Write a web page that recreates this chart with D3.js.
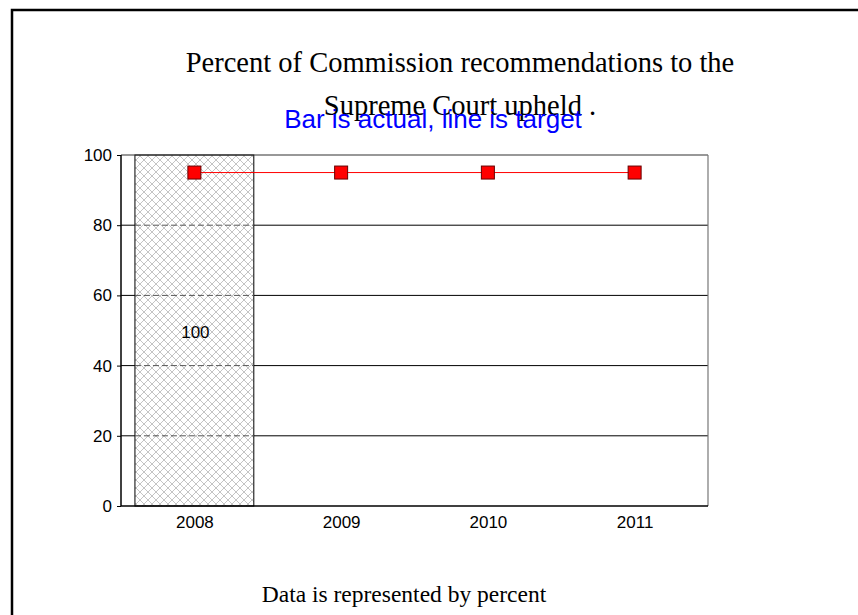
<!DOCTYPE html>
<html>
<head>
<meta charset="utf-8">
<script src="https://cdn.jsdelivr.net/npm/d3@7"></script>
<style>
  body { margin: 0; background: #fff; }
  svg { display: block; }
</style>
</head>
<body>
<div id="chart"></div>
<script>
// chart values
var years = ["2008", "2009", "2010", "2011"];
var actual = [100, null, null, null];
var target = [95, 95, 95, 95];
var yTicks = [0, 20, 40, 60, 80, 100];

var W = 858, H = 615;
var pL = 121, pR = 708, pT = 155, pB = 506;

var svg = d3.select('#chart').append('svg')
  .attr('width', W).attr('height', H);

// crosshatch for the bar
var defs = svg.append('defs');
var pat = defs.append('pattern')
  .attr('id', 'hatch')
  .attr('patternUnits', 'userSpaceOnUse')
  .attr('width', 8).attr('height', 8);
pat.append('rect').attr('width', 8).attr('height', 8).attr('fill', '#fff');
pat.append('path')
  .attr('d', 'M0,0 L8,8 M8,0 L0,8')
  .attr('stroke', '#c4c4c4').attr('stroke-width', 1);

// slide frame (top and left edges)
svg.append('path')
  .attr('d', 'M12,615 L12,10 L858,10')
  .attr('fill', 'none').attr('stroke', '#000').attr('stroke-width', 2.5);

var x = d3.scaleBand().domain(years).range([pL, pR]).paddingInner(0.19).paddingOuter(0.095);
var xc = d3.scalePoint().domain(years).range([pL, pR]).padding(0.5);
var y = d3.scaleLinear().domain([0, 100]).range([pB, pT]);

// grid lines
svg.append('g').selectAll('line')
  .data(yTicks.filter(function(d){ return d > 0 && d < 100; }))
  .enter().append('line')
  .attr('x1', pL).attr('x2', pR)
  .attr('y1', function(d){ return y(d); }).attr('y2', function(d){ return y(d); })
  .attr('stroke', '#000').attr('stroke-width', 1);

// bars
var bars = svg.append('g').selectAll('g')
  .data(years.map(function(d, i){ return {year: d, v: actual[i]}; }).filter(function(d){ return d.v != null; }))
  .enter().append('g');

bars.append('rect')
  .attr('x', function(d){ return x(d.year); })
  .attr('width', x.bandwidth())
  .attr('y', function(d){ return y(d.v); })
  .attr('height', function(d){ return y(0) - y(d.v); })
  .attr('fill', 'url(#hatch)')
  .attr('stroke', '#000').attr('stroke-width', 1);

// grid shows through the hatch as dashes
bars.each(function(d){
  var g = d3.select(this);
  yTicks.filter(function(t){ return t > 0 && t < d.v; }).forEach(function(t){
    g.append('line')
      .attr('x1', x(d.year)).attr('x2', x(d.year) + x.bandwidth())
      .attr('y1', y(t)).attr('y2', y(t))
      .attr('stroke', '#555').attr('stroke-dasharray', '6,3');
  });
});

bars.append('text')
  .attr('x', function(d){ return x(d.year) + x.bandwidth() / 2 + 1; })
  .attr('y', function(d){ return y(d.v / 2) + 7; })
  .attr('text-anchor', 'middle')
  .style('font-family', 'Liberation Sans, Arial, sans-serif')
  .style('font-size', '17px')
  .text(function(d){ return d.v; });

// plot frame
svg.append('line').attr('x1', pL).attr('x2', pR).attr('y1', pT).attr('y2', pT)
  .attr('stroke', '#333').attr('stroke-width', 1.2);
svg.append('line').attr('x1', pR).attr('x2', pR).attr('y1', pT).attr('y2', pB)
  .attr('stroke', '#777').attr('stroke-width', 1.2);

// axes
var yAxis = svg.append('g').attr('transform', 'translate(' + pL + ',0)')
  .call(d3.axisLeft(y).tickValues(yTicks).tickSize(4).tickPadding(5));
var xAxis = svg.append('g').attr('transform', 'translate(0,' + pB + ')')
  .call(d3.axisBottom(xc).tickSize(0).tickPadding(10));
[yAxis, xAxis].forEach(function(a){
  a.selectAll('path').attr('stroke', '#000').attr('stroke-width', 1.5);
  a.selectAll('line').attr('stroke', '#000');
  a.selectAll('text')
    .style('font-family', 'Liberation Sans, Arial, sans-serif')
    .style('font-size', '17px').attr('fill', '#000');
});
xAxis.select('.domain').attr('d', 'M' + pL + ',0H' + pR);
yAxis.select('.domain').attr('d', 'M0,' + pT + 'V' + pB);

// target line
var line = d3.line()
  .x(function(d, i){ return xc(years[i]); })
  .y(function(d){ return y(d); });
svg.append('path').datum(target)
  .attr('d', line).attr('fill', 'none')
  .attr('stroke', '#ff0000').attr('stroke-width', 1);

svg.append('g').selectAll('rect')
  .data(target).enter().append('rect')
  .attr('x', function(d, i){ return xc(years[i]) - 6.5; })
  .attr('y', function(d){ return y(d) - 6.5; })
  .attr('width', 13).attr('height', 13)
  .attr('fill', '#ff0000').attr('stroke', '#600').attr('stroke-width', 1);

// titles
var serif = 'Liberation Serif, Times New Roman, serif';
svg.append('text').attr('x', 460).attr('y', 72).attr('text-anchor', 'middle')
  .style('font-family', serif).style('font-size', '28.5px')
  .text('Percent of Commission recommendations to the');
svg.append('text').attr('x', 460).attr('y', 115).attr('text-anchor', 'middle')
  .style('font-family', serif).style('font-size', '28.5px')
  .text('Supreme Court upheld .');
svg.append('text').attr('x', 433).attr('y', 128).attr('text-anchor', 'middle')
  .style('font-family', 'Liberation Sans, Arial, sans-serif').style('font-size', '26px')
  .attr('fill', '#0000ff')
  .text('Bar is actual, line is target');
svg.append('text').attr('x', 404).attr('y', 602).attr('text-anchor', 'middle')
  .style('font-family', serif).style('font-size', '23.5px')
  .text('Data is represented by percent');
</script>
</body>
</html>
